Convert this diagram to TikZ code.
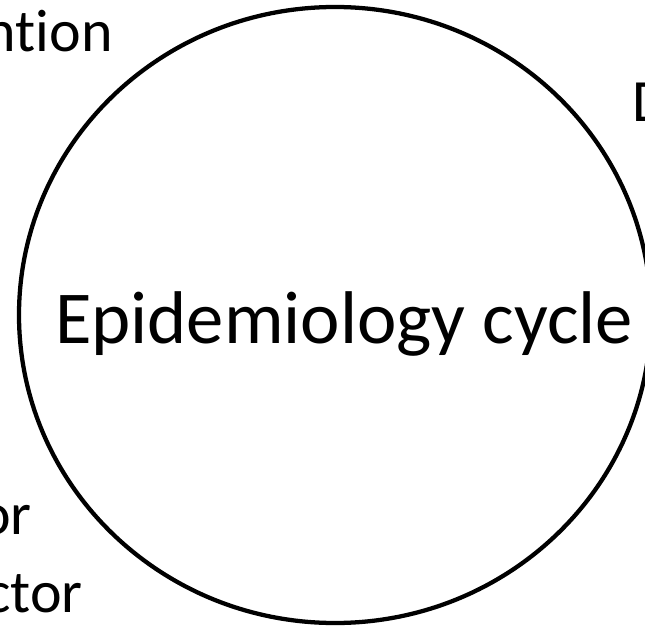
\documentclass[tikz,border=0pt]{standalone}
\usepackage{fontspec}
\setmainfont{Carlito}[RawFeature={-liga;-clig;-calt}]
\usepackage{xcolor}

\tikzset{
  sidelabel/.style={anchor=base east,inner sep=0pt,font=\fontsize{45}{54}\selectfont},
}

\begin{document}
\begin{tikzpicture}[x=0.75pt,y=0.75pt,yscale=-1,xscale=1]
        \useasboundingbox (0,0) rectangle (645,627);
        \clip (0,0) rectangle (645,627);

        %Shape: Ellipse [id:cycle]
        \draw [line width=3.2pt] (335,315) ellipse [x radius=316, y radius=308];

        % Text Node
        \node (title) [anchor=base,inner sep=0pt,font=\fontsize{56}{66}\selectfont] at (344,343) {Epidemiology cycle};
        % Text Node
        \node (ntion) [sidelabel] at (113,52) {ntion};
        % Text Node
        \node (redn) [sidelabel,text={rgb,255:red,255;green,0;blue,0}] at (4,265) {n};
        % Text Node
        \node (dd) [sidelabel,anchor=base west] at (632,122) {D};
        % Text Node
        \node (orr) [sidelabel] at (32,534) {or};
        % Text Node
        \node (ctor) [sidelabel] at (83,612) {ctor};

\end{tikzpicture}
\end{document}
